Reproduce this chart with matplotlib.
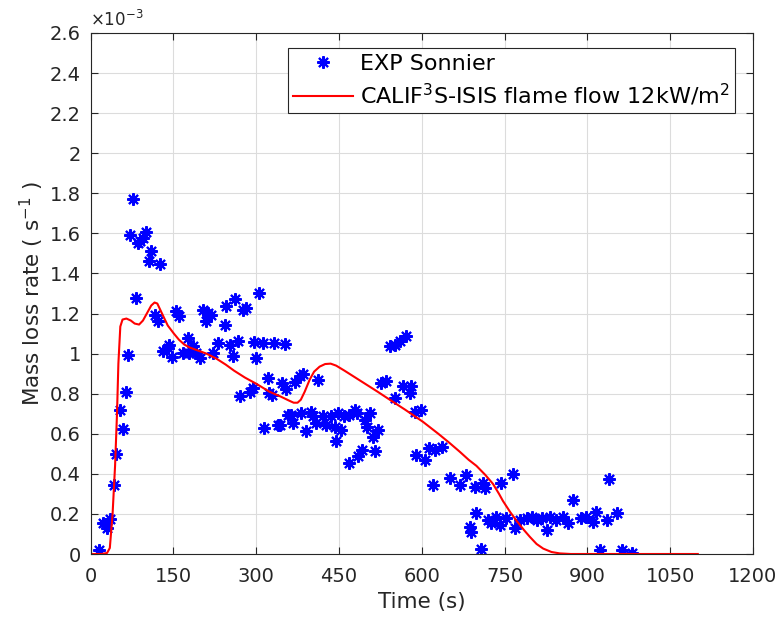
import matplotlib
matplotlib.use("Agg")
import matplotlib.pyplot as plt
from matplotlib.ticker import FuncFormatter, MultipleLocator

# ---- Data (mass loss rate in units of 1e-3 s^-1) ----
exp_time = [16, 23, 29, 35, 43, 47, 59, 53, 64, 68, 83, 77, 71, 86, 89, 95, 101, 106,
            110, 125, 116, 122, 143, 131, 140, 148, 154, 161, 176, 185, 167, 179, 191,
            198, 204, 213, 219, 210, 222, 231, 243, 246, 261, 252, 267, 258, 276, 282,
            306, 300, 297, 312, 333, 352, 321, 328, 346, 355, 270, 288, 294, 315, 340,
            358, 370, 379, 385, 412, 343, 364, 367, 382, 391, 400, 403, 409, 421, 427,
            436, 442, 448, 454, 460, 469, 479, 482, 497, 506, 500, 521, 512, 515, 491,
            485, 469, 445, 542, 551, 560, 571, 527, 536, 551, 566, 581, 578, 587, 599,
            590, 605, 614, 624, 636, 620, 651, 681, 669, 696, 711, 714, 744, 765, 687,
            690, 699, 707, 720, 726, 735, 741, 753, 769, 778, 790, 799, 808, 817, 826,
            832, 844, 856, 865, 874, 889, 898, 910, 916, 935, 954, 939, 922, 962, 980,
            324]
exp_rate = [0.02, 0.153, 0.128, 0.176, 0.345, 0.50, 0.623, 0.72, 0.81, 0.995, 1.28, 1.773,
            1.593, 1.553, 1.563, 1.578, 1.607, 1.462, 1.511, 1.445, 1.195, 1.163, 1.045,
            1.011, 1.029, 0.982, 1.212, 1.19, 1.079, 1.037, 1.003, 1.003, 1.003, 0.977,
            1.22, 1.204, 1.195, 1.163, 1.003, 1.053, 1.145, 1.237, 1.273, 1.045, 1.061,
            0.987, 1.22, 1.228, 1.303, 0.977, 1.058, 1.053, 1.053, 1.05, 0.879, 0.791,
            0.854, 0.821, 0.79, 0.806, 0.829, 0.628, 0.642, 0.695, 0.86, 0.89, 0.899,
            0.87, 0.645, 0.695, 0.654, 0.703, 0.612, 0.711, 0.687, 0.654, 0.687, 0.645,
            0.687, 0.636, 0.703, 0.62, 0.687, 0.695, 0.72, 0.703, 0.67, 0.703, 0.636,
            0.62, 0.586, 0.512, 0.52, 0.487, 0.453, 0.562, 1.037, 1.045, 1.062, 1.089,
            0.854, 0.862, 0.779, 0.836, 0.836, 0.803, 0.711, 0.72, 0.495, 0.47, 0.529,
            0.52, 0.536, 0.345, 0.378, 0.395, 0.345, 0.336, 0.354, 0.328, 0.354, 0.40,
            0.137, 0.111, 0.203, 0.023, 0.17, 0.153, 0.187, 0.145, 0.179, 0.128, 0.17,
            0.179, 0.187, 0.17, 0.179, 0.12, 0.187, 0.17, 0.187, 0.153, 0.27, 0.179,
            0.187, 0.161, 0.211, 0.17, 0.206, 0.372, 0.02, 0.02, 0.004, 0.803]

sim_time = [0, 20, 30, 35, 40, 44.5, 48, 50.5, 54, 58, 65, 73, 80, 88, 95, 102, 110, 116,
            121, 127, 133, 140, 151, 160, 170, 180, 195, 210, 228, 245, 260, 280, 300,
            324, 345, 360, 368, 375, 381, 388, 397, 405, 415, 425, 435, 445, 460, 480,
            500, 520, 542, 570, 602, 630, 650, 669, 685, 699, 715, 729, 740, 747, 760,
            772, 785, 796, 808, 820, 835, 850, 870, 1100]
sim_rate = [0, 0, 0.005, 0.03, 0.2, 0.44, 0.7, 0.95, 1.135, 1.17, 1.175, 1.165, 1.15,
            1.145, 1.165, 1.2, 1.24, 1.255, 1.25, 1.215, 1.18, 1.14, 1.1, 1.07, 1.045,
            1.03, 1.015, 1.0, 0.975, 0.945, 0.915, 0.88, 0.85, 0.81, 0.785, 0.765,
            0.755, 0.755, 0.77, 0.81, 0.87, 0.91, 0.935, 0.948, 0.95, 0.94, 0.915, 0.88,
            0.845, 0.81, 0.77, 0.72, 0.66, 0.6, 0.555, 0.51, 0.47, 0.44, 0.395, 0.35,
            0.3, 0.265, 0.21, 0.165, 0.12, 0.085, 0.05, 0.027, 0.01, 0.003, 0, 0]

x_ticks = [0, 150, 300, 450, 600, 750, 900, 1050, 1200]

# ---- Figure ----
fig = plt.figure(figsize=(7.78, 6.19), dpi=100)
ax = fig.add_axes([90.5 / 778, 65 / 619, (753 - 90.5) / 778, (554 - 33) / 619])

ax.plot(exp_time, exp_rate, linestyle='none', marker=(8, 2, 0), markersize=9,
        markeredgewidth=1.5, color=(0, 0, 1), label='EXP Sonnier')
ax.plot(sim_time, sim_rate, color=(1, 0, 0), linewidth=1.5,
        label=r'CALIF$^3$S-ISIS flame flow 12kW/m$^2$')

ax.set_xlim(0, 1200)
ax.set_ylim(0, 2.6)
ax.set_xticks(x_ticks)
ax.yaxis.set_major_locator(MultipleLocator(0.2))
ax.yaxis.set_major_formatter(FuncFormatter(lambda v, p: f"{round(v, 1):g}"))

ax.grid(True, color='#dcdcdc', linewidth=0.8)
ax.set_axisbelow(True)
for s in ax.spines.values():
    s.set_color('#262626')
    s.set_linewidth(0.8)
ax.tick_params(axis='both', direction='in', top=True, right=True, length=5, width=0.8,
               colors='#262626', labelsize=14, labelcolor='#262626')
ax.tick_params(axis='x', pad=9)
ax.tick_params(axis='y', pad=7)

ax.set_xlabel('Time (s)', fontsize=15.5, color='#262626', labelpad=5)
ax.set_ylabel(r'Mass loss rate ( s$^{-1}$ )', fontsize=15.5, color='#262626', labelpad=3)
ax.text(0.0, 1.006, r'$\times10^{-3}$', transform=ax.transAxes, fontsize=12,
        color='#262626', ha='left', va='bottom')

leg = ax.legend(loc='upper right', bbox_to_anchor=(0.973, 0.971), fontsize=16,
                frameon=True, fancybox=False, edgecolor='#262626', framealpha=1,
                borderpad=0.25, labelspacing=0.35, handlelength=2.7, handletextpad=0.3,
                borderaxespad=0.0)
leg.get_frame().set_linewidth(0.8)

fig.savefig('out.png', dpi=100)
